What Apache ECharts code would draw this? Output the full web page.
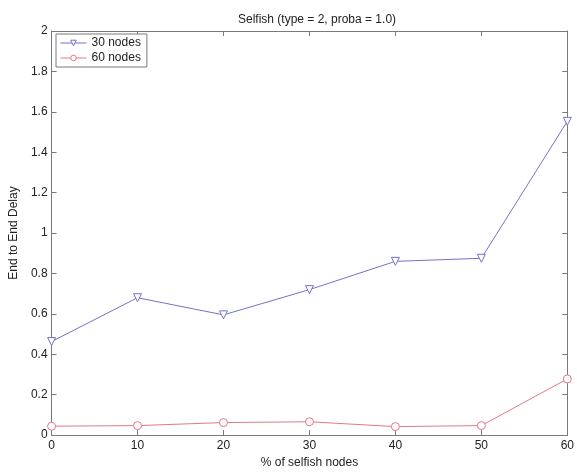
<!DOCTYPE html>
<html>
<head>
<meta charset="utf-8">
<script src="https://cdn.jsdelivr.net/npm/echarts@6/dist/echarts.min.js"></script>
<style>
  html, body { margin: 0; padding: 0; background: #fff; }
  #chart { width: 577px; height: 474px; }
</style>
</head>
<body>
<div id="chart"></div>
<script>
// Percentage of selfish nodes (x) and mean end-to-end delay per network size
const selfishPct = [0, 10, 20, 30, 40, 50, 60];
const delay30 = [0.463, 0.68, 0.595, 0.72, 0.86, 0.875, 1.553];
const delay60 = [0.044, 0.047, 0.062, 0.066, 0.042, 0.047, 0.278];
const seriesNames = ['30 nodes', '60 nodes'];

const FONT = '"Liberation Sans", Arial, sans-serif';
const FS = 12;
const AXIS_COLOR = '#7a7a7a';
const BLUE = '#7373c8';
const RED = '#e07a88';

const toPairs = (xs, ys) => xs.map((x, i) => [x, ys[i]]);

const boxAxis = (extra) => Object.assign({
  type: 'value',
  axisLine: { show: true, onZero: false, lineStyle: { color: AXIS_COLOR, width: 1 } },
  axisTick: { show: true, inside: true, length: 5, lineStyle: { color: AXIS_COLOR } },
  splitLine: { show: false },
  axisLabel: { show: false }
}, extra);

const chart = echarts.init(document.getElementById('chart'), null, { renderer: 'canvas' });
chart.setOption({
  animation: false,
  backgroundColor: '#fff',
  textStyle: { fontFamily: FONT },
  title: {
    text: 'Selfish (type = 2, proba = 1.0)',
    left: 312, top: 9, textAlign: 'center',
    textStyle: { fontFamily: FONT, fontSize: FS, fontWeight: 'normal', color: '#222' }
  },
  grid: { left: 50, right: 5, top: 31, bottom: 36, containLabel: false },
  legend: {
    data: seriesNames,
    orient: 'vertical',
    left: 56, top: 34,
    itemWidth: 26, itemHeight: 7, itemGap: 3,
    padding: [3, 6, 3, 4],
    borderColor: AXIS_COLOR, borderWidth: 1, backgroundColor: '#fff',
    lineStyle: { width: 1 },
    itemStyle: { borderWidth: 1 },
    textStyle: { fontFamily: FONT, fontSize: FS, color: '#222' }
  },
  xAxis: [
    boxAxis({
      min: 0, max: 60, interval: 10, position: 'bottom',
      name: '% of selfish nodes', nameLocation: 'middle', nameGap: 20,
      nameTextStyle: { fontFamily: FONT, fontSize: FS, color: '#222' },
      axisLabel: { show: true, fontFamily: FONT, fontSize: FS, color: '#222', margin: 5 }
    }),
    boxAxis({ min: 0, max: 60, interval: 10, position: 'top' })
  ],
  yAxis: [
    boxAxis({
      min: 0, max: 2, interval: 0.2, position: 'left',
      name: 'End to End Delay', nameLocation: 'middle', nameGap: 31,
      nameTextStyle: { fontFamily: FONT, fontSize: FS, color: '#222' },
      axisLabel: { show: true, fontFamily: FONT, fontSize: FS, color: '#222', margin: 4 }
    }),
    boxAxis({ min: 0, max: 2, interval: 0.2, position: 'right' })
  ],
  series: [
    {
      name: seriesNames[0], type: 'line',
      data: toPairs(selfishPct, delay30),
      symbol: 'triangle', symbolRotate: 180, symbolSize: 8,
      showAllSymbol: true,
      lineStyle: { color: BLUE, width: 1 },
      itemStyle: { color: '#fff', borderColor: BLUE, borderWidth: 1 }
    },
    {
      name: seriesNames[1], type: 'line',
      data: toPairs(selfishPct, delay60),
      symbol: 'circle', symbolSize: 8,
      showAllSymbol: true,
      lineStyle: { color: RED, width: 1 },
      itemStyle: { color: '#fff', borderColor: RED, borderWidth: 1 }
    }
  ]
});
</script>
</body>
</html>
